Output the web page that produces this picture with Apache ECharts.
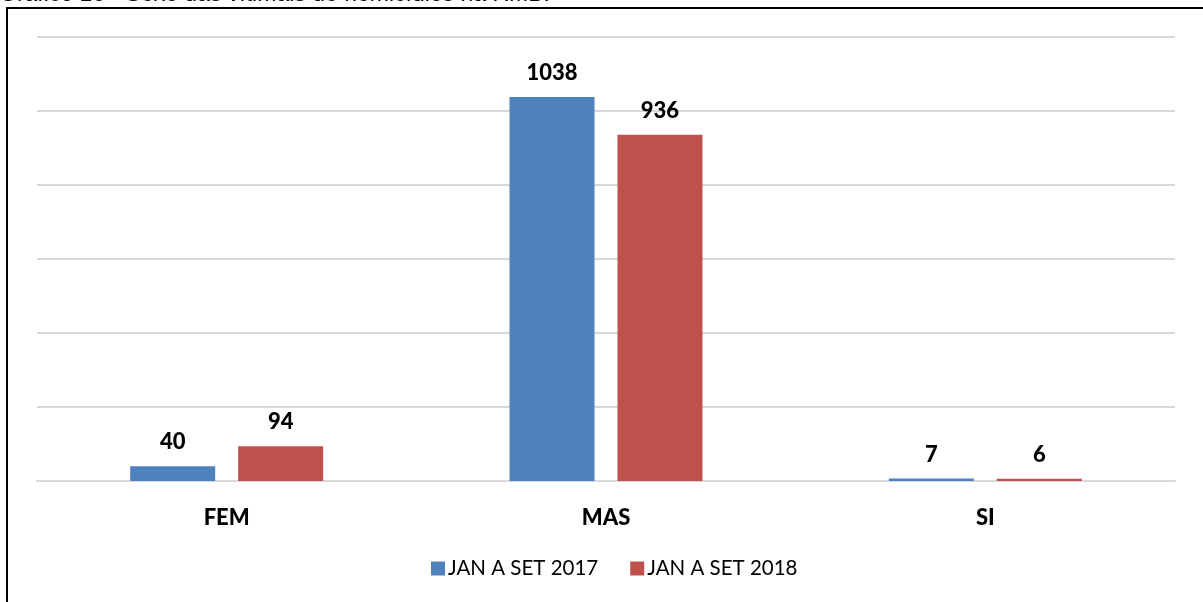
<!DOCTYPE html>
<html><head><meta charset="utf-8">
<script src="https://cdn.jsdelivr.net/npm/echarts@6/dist/echarts.min.js"></script>
<style>html,body{margin:0;padding:0;background:#fff}#c{width:1203px;height:602px}</style>
</head><body><div id="c"></div>
<script>
const categories = ['FEM', 'MAS', 'SI'];
const seriesNames = ['JAN A SET 2017', 'JAN A SET 2018'];
const values2017 = [40, 1038, 7];
const values2018 = [94, 936, 6];
const titleText = 'Gráfico 16 - Sexo das vítimais de homicídios na RMB.';

const chart = echarts.init(document.getElementById('c'));
const labelStyle = {show: true, position: 'top', distance: 13, fontFamily: 'Lato', fontWeight: 900, fontSize: 22, color: '#000'};
chart.setOption({
  animation: false,
  graphic: [
    {type: 'rect', shape: {x: 7, y: 8, width: 1400, height: 800}, style: {fill: 'none', stroke: '#000', lineWidth: 2}},
    {type: 'text', x: -1, y: 6, style: {text: titleText, font: '23px "Liberation Sans"', fill: '#000', textVerticalAlign: 'bottom'}}
  ],
  grid: {left: 37, right: 28, top: 37, bottom: 121},
  legend: {
    bottom: 18, left: 426, itemWidth: 14, itemHeight: 14, itemGap: 32,
    icon: 'rect',
    textStyle: {fontFamily: 'Lato', fontSize: 20.5, color: '#000', padding: [0, 0, 0, -2]},
    data: seriesNames
  },
  xAxis: {
    type: 'category', data: categories,
    axisLine: {lineStyle: {color: '#d9d9d9', width: 2}},
    axisTick: {show: false},
    axisLabel: {fontFamily: 'Lato', fontWeight: 900, fontSize: 22, color: '#000', margin: 26}
  },
  yAxis: {
    type: 'value', min: 0, max: 1200, interval: 200,
    axisLabel: {show: false}, axisLine: {show: false}, axisTick: {show: false},
    splitLine: {lineStyle: {color: '#d9d9d9', width: 2}}
  },
  series: [
    {name: seriesNames[0], type: 'bar', data: values2017, barWidth: 85, barGap: '27%',
     itemStyle: {color: '#4F81BD'}, label: labelStyle},
    {name: seriesNames[1], type: 'bar', data: values2018, barWidth: 85,
     itemStyle: {color: '#C0504D'}, label: labelStyle}
  ]
});
</script></body></html>
